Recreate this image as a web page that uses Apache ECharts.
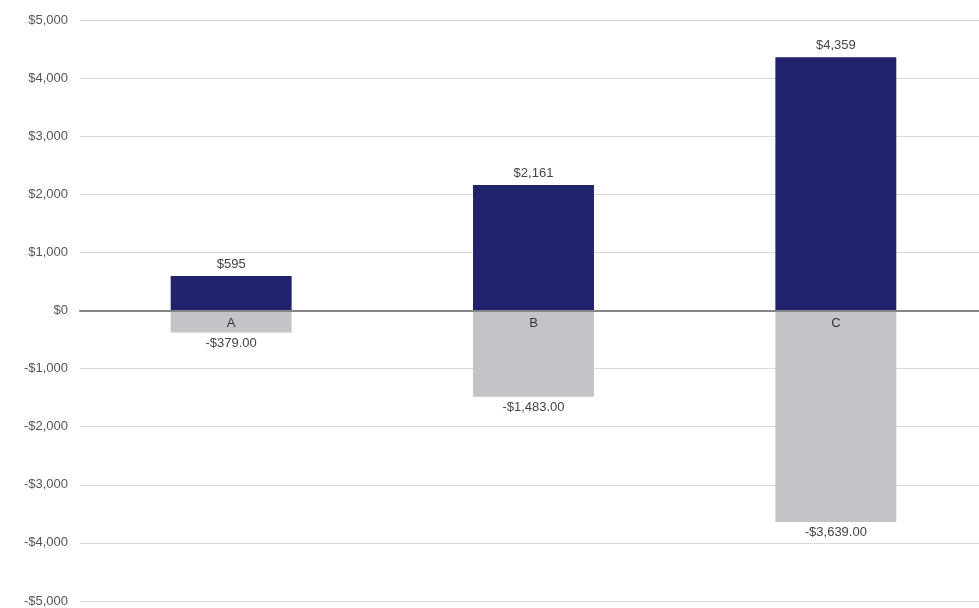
<!DOCTYPE html>
<html>
<head>
<meta charset="utf-8">
<script src="https://cdn.jsdelivr.net/npm/echarts@6/dist/echarts.min.js"></script>
<style>
  html, body { margin: 0; padding: 0; background: #fff; }
  #chart { width: 979px; height: 608px; }
</style>
</head>
<body>
<div id="chart"></div>
<script>
const categories = ['A', 'B', 'C'];
const gains = [595, 2161, 4359];
const losses = [-379, -1483, -3639];
const zeroLine = [0, 0, 0];

const money = (v, dec) => {
  const s = Math.abs(v).toLocaleString('en-US', { minimumFractionDigits: dec, maximumFractionDigits: dec });
  return (v < 0 ? '-$' : '$') + s;
};

const chart = echarts.init(document.getElementById('chart'));
const font = 'Liberation Sans, Arial, sans-serif';

chart.setOption({
  animation: false,
  grid: { left: 80, top: 20, width: 907, height: 581, containLabel: false, outerBoundsMode: 'none' },
  xAxis: {
    type: 'category',
    data: categories,
    z: 10,
    axisLine: { onZero: true, lineStyle: { color: '#858585', width: 2 } },
    axisTick: { show: false },
    axisLabel: { show: false }
  },
  yAxis: {
    type: 'value',
    min: -5000,
    max: 5000,
    interval: 1000,
    axisLine: { show: false },
    axisTick: { show: false },
    splitLine: { lineStyle: { color: '#dadada', width: 1 } },
    axisLabel: {
      color: '#555',
      fontSize: 13,
      fontFamily: font,
      margin: 12,
      formatter: v => money(v, 0)
    }
  },
  series: [
    {
      name: 'Gain',
      type: 'bar',
      stack: 'total',
      data: gains,
      barWidth: '40%',
      itemStyle: { color: '#20226b' },
      label: {
        show: true,
        position: 'top',
        distance: 5,
        color: '#444',
        fontSize: 13,
        fontFamily: font,
        formatter: p => money(p.value, 0)
      }
    },
    {
      name: 'Loss',
      type: 'bar',
      stack: 'total',
      data: losses,
      barWidth: '40%',
      itemStyle: { color: '#c3c4c7' },
      label: {
        show: true,
        position: 'bottom',
        distance: 4,
        color: '#444',
        fontSize: 13,
        fontFamily: font,
        formatter: p => money(p.value, 2)
      }
    },
    {
      name: 'Category',
      type: 'scatter',
      data: zeroLine,
      symbolSize: 1,
      itemStyle: { color: 'rgba(0,0,0,0)' },
      z: 12,
      label: {
        show: true,
        position: 'bottom',
        distance: 6,
        color: '#111',
        fontSize: 13,
        fontFamily: font,
        formatter: p => p.name
      }
    }
  ]
});
</script>
</body>
</html>
